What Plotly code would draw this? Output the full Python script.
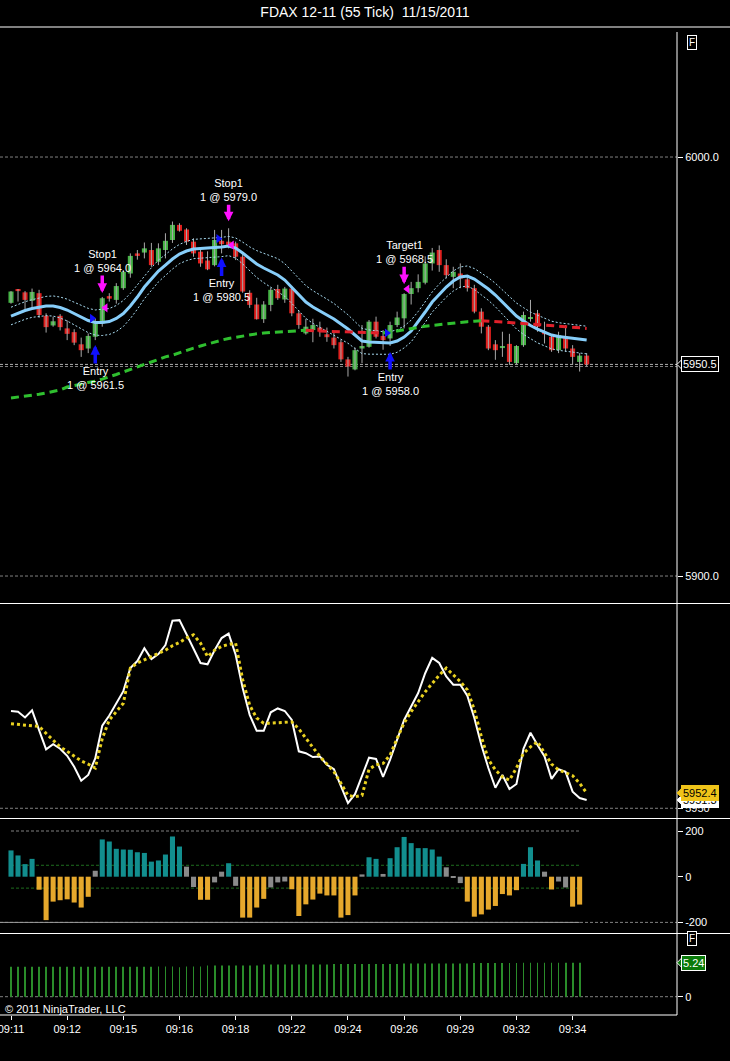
import plotly.graph_objects as go
from plotly.subplots import make_subplots

# ---------------- data ----------------
opens = [5965.2, 5968.3, 5967.7, 5965.7, 5967.5, 5962.1, 5959.8, 5962.1, 5959.1, 5958.2,
         5955.3, 5954.3, 5957.1, 5960.3, 5966.8, 5965.9, 5968.7, 5972.2, 5977.0, 5977.2,
         5977.8, 5975.0, 5977.8, 5980.2, 5983.8, 5982.7, 5979.8, 5977.4, 5975.3, 5974.2,
         5980.0, 5979.8, 5979.4, 5976.2, 5967.6, 5964.8, 5961.3, 5964.7, 5968.5, 5966.0,
         5968.6, 5962.7, 5957.9, 5958.7, 5959.3, 5957.7, 5956.9, 5955.8, 5951.7, 5949.3,
         5954.3, 5954.7, 5960.7, 5957.3, 5956.7, 5959.9, 5961.5, 5967.3, 5968.7, 5970.0,
         5974.6, 5977.8, 5974.2, 5971.4, 5972.2, 5970.8, 5968.7, 5963.1, 5959.5, 5955.3,
         5954.4, 5955.4, 5950.8, 5955.1, 5961.4, 5962.7, 5958.3, 5957.1, 5953.9, 5957.1,
         5954.3, 5951.1, 5952.6]
highs = [5968.0, 5968.5, 5968.0, 5968.6, 5968.3, 5962.7, 5961.9, 5962.5, 5961.0, 5958.9,
         5956.9, 5957.9, 5961.5, 5966.6, 5967.5, 5969.9, 5973.0, 5977.0, 5977.8, 5979.6,
         5979.5, 5979.4, 5981.8, 5984.6, 5984.2, 5983.0, 5980.6, 5978.0, 5977.5, 5982.6,
         5982.6, 5983.0, 5979.8, 5976.8, 5968.2, 5966.4, 5965.6, 5968.8, 5969.5, 5969.0,
         5969.2, 5963.4, 5961.4, 5961.4, 5960.7, 5959.3, 5958.3, 5956.4, 5952.3, 5954.5,
         5959.9, 5961.1, 5961.9, 5958.7, 5960.7, 5963.1, 5967.5, 5970.2, 5972.0, 5976.3,
         5978.3, 5978.9, 5975.6, 5973.8, 5974.6, 5971.8, 5969.5, 5963.9, 5959.9, 5956.3,
         5958.3, 5957.8, 5955.1, 5963.1, 5965.9, 5963.5, 5960.7, 5957.5, 5958.3, 5959.9,
         5955.1, 5953.2, 5953.2]
lows = [5965.0, 5965.5, 5963.7, 5963.7, 5961.6, 5958.1, 5959.5, 5958.6, 5956.3, 5955.1,
        5952.3, 5953.2, 5956.3, 5959.5, 5965.5, 5965.0, 5968.3, 5971.2, 5975.5, 5975.8,
        5973.8, 5974.2, 5975.8, 5979.5, 5982.2, 5979.0, 5976.2, 5973.8, 5973.0, 5973.9,
        5977.0, 5978.2, 5975.4, 5967.6, 5964.0, 5961.2, 5960.4, 5963.2, 5965.9, 5965.2,
        5962.0, 5959.0, 5957.6, 5955.8, 5957.1, 5955.9, 5954.3, 5951.1, 5947.6, 5949.1,
        5950.8, 5954.5, 5956.7, 5954.0, 5954.9, 5959.4, 5959.1, 5964.8, 5967.7, 5969.6,
        5972.9, 5972.6, 5971.0, 5968.7, 5968.7, 5967.9, 5962.7, 5957.9, 5953.9, 5951.6,
        5952.3, 5950.4, 5950.6, 5954.7, 5960.7, 5958.3, 5955.5, 5953.5, 5953.2, 5953.5,
        5950.4, 5948.8, 5950.0]
closes = [5967.9, 5968.0, 5965.9, 5967.8, 5962.3, 5959.4, 5960.8, 5959.4, 5957.8, 5955.7,
          5953.9, 5957.3, 5960.3, 5966.3, 5966.2, 5969.2, 5972.6, 5976.4, 5976.4, 5978.2,
          5974.2, 5978.2, 5980.0, 5983.8, 5982.4, 5979.8, 5977.0, 5974.6, 5973.2, 5980.2,
          5979.2, 5979.0, 5976.2, 5967.9, 5964.7, 5961.3, 5964.8, 5968.3, 5966.3, 5968.6,
          5962.7, 5959.9, 5959.5, 5959.9, 5958.3, 5957.0, 5955.1, 5951.7, 5950.0, 5953.9,
          5954.9, 5960.7, 5957.1, 5956.3, 5959.9, 5961.7, 5967.3, 5968.7, 5970.2, 5974.6,
          5977.2, 5974.2, 5971.8, 5972.6, 5971.0, 5968.7, 5963.1, 5959.5, 5954.3, 5953.9,
          5954.9, 5951.1, 5954.9, 5962.3, 5961.6, 5959.5, 5957.7, 5953.9, 5957.5, 5954.3,
          5952.3, 5952.6, 5950.5]

slow_ma = [5942.5, 5942.7, 5943.0, 5943.2, 5943.4, 5943.7, 5944.0, 5944.4, 5945.1, 5945.4,
           5945.8, 5946.2, 5946.5, 5947.0, 5947.5, 5948.1, 5948.7, 5949.3, 5949.9, 5950.5,
           5951.1, 5951.7, 5952.3, 5952.7, 5953.3, 5953.9, 5954.4, 5954.9, 5955.4, 5955.8,
           5956.3, 5956.7, 5957.0, 5957.3, 5957.5, 5957.8, 5958.0, 5958.1, 5958.2, 5958.4,
           5958.5, 5958.6, 5958.65, 5958.5, 5958.45, 5958.4, 5958.35, 5958.3, 5958.25, 5958.2,
           5958.15, 5958.1, 5958.05, 5958.0, 5958.2, 5958.5, 5958.8, 5959.1, 5959.4, 5959.6,
           5959.8, 5960.0, 5960.2, 5960.4, 5960.6, 5960.7, 5960.8, 5960.9, 5960.85, 5960.75,
           5960.6, 5960.5, 5960.4, 5960.3, 5960.2, 5960.05, 5959.9, 5959.8, 5959.65, 5959.5,
           5959.4, 5959.25, 5959.1]

kc_mid = [5962.05, 5962.77, 5963.37, 5963.84, 5964.20, 5964.44, 5964.44, 5964.08, 5963.48, 5962.65,
          5961.69, 5960.98, 5960.50, 5960.50, 5960.74, 5961.46, 5962.65, 5964.44, 5966.59, 5968.97,
          5970.88, 5972.79, 5974.22, 5975.66, 5976.85, 5977.57, 5978.04, 5978.16, 5978.16, 5978.28,
          5978.52, 5978.76, 5978.28, 5977.09, 5975.66, 5974.46, 5973.51, 5972.67, 5971.84, 5970.64,
          5968.97, 5967.30, 5965.39, 5964.20, 5963.25, 5962.29, 5961.34, 5960.14, 5958.95, 5957.52,
          5956.09, 5955.85, 5955.73, 5955.61, 5955.61, 5956.09, 5957.04, 5958.47, 5960.62, 5963.01,
          5965.39, 5967.30, 5968.97, 5970.41, 5971.36, 5971.60, 5970.88, 5969.69, 5968.50, 5967.06,
          5965.39, 5963.72, 5962.05, 5960.86, 5959.79, 5958.95, 5958.23, 5957.52, 5957.16, 5956.92,
          5956.80, 5956.56, 5956.32]
kc_half = [2.1, 2.1, 2.1, 2.1, 2.2, 2.3, 2.4, 2.5, 2.6, 2.7,
           2.8, 2.9, 3.0, 3.1, 3.1, 3.1, 3.1, 3.0, 2.9, 2.8,
           2.7, 2.6, 2.5, 2.4, 2.3, 2.3, 2.3, 2.3, 2.3, 2.3,
           2.3, 2.3, 2.4, 2.6, 2.9, 3.2, 3.5, 3.7, 3.9, 3.9,
           3.9, 3.9, 3.9, 3.9, 3.9, 3.8, 3.7, 3.6, 3.4, 3.2,
           3.0, 2.9, 2.8, 2.7, 2.7, 2.7, 2.6, 2.6, 2.5, 2.5,
           2.4, 2.4, 2.4, 2.4, 2.4, 2.4, 2.5, 2.6, 2.7, 2.8,
           2.9, 3.0, 3.1, 3.2, 3.2, 3.3, 3.3, 3.3, 3.3, 3.3,
           3.3, 3.3, 3.3]

osc_fast = [5965.2, 5965.1, 5964.2, 5965.3, 5962.2, 5959.2, 5960.0, 5959.3, 5958.2, 5956.5,
            5954.3, 5955.2, 5957.8, 5962.9, 5964.5, 5966.3, 5968.3, 5971.9, 5973.0, 5975.0,
            5973.3, 5974.1, 5975.5, 5979.3, 5979.4, 5977.2, 5974.9, 5972.7, 5972.5, 5974.7,
            5976.6, 5977.3, 5974.0, 5968.8, 5964.6, 5962.1, 5962.1, 5965.0, 5965.6, 5965.2,
            5963.8, 5958.9, 5958.6, 5958.0, 5958.1, 5956.8, 5956.1, 5953.4, 5950.8, 5952.2,
            5955.2, 5957.9, 5957.7, 5954.9, 5957.6, 5960.7, 5963.8, 5965.9, 5968.0, 5971.1,
            5973.5, 5972.7, 5970.6, 5969.3, 5969.3, 5967.6, 5964.1, 5959.9, 5956.3, 5953.2,
            5955.2, 5953.0, 5953.8, 5959.3, 5961.8, 5959.9, 5958.1, 5954.6, 5956.1, 5955.7,
            5952.6, 5951.6, 5951.3]
osc_slow = [5963.2, 5963.1, 5963.1, 5963.0, 5962.8, 5961.7, 5960.7, 5959.6, 5958.9, 5958.1,
            5957.4, 5956.9, 5956.3, 5960.9, 5963.8, 5965.1, 5966.4, 5971.9, 5972.7, 5973.2,
            5973.7, 5974.2, 5974.7, 5975.4, 5975.9, 5976.6, 5977.1, 5975.8, 5973.7, 5974.7,
            5975.3, 5975.6, 5975.8, 5970.1, 5966.1, 5964.1, 5963.3, 5963.3, 5963.4, 5963.5,
            5963.5, 5962.4, 5960.9, 5959.5, 5958.1, 5956.9, 5955.7, 5953.9, 5952.0, 5951.8,
            5952.0, 5956.1, 5956.8, 5957.0, 5958.3, 5960.9, 5963.3, 5965.1, 5966.7, 5968.2,
            5969.5, 5970.8, 5971.9, 5970.8, 5969.8, 5968.5, 5965.4, 5961.2, 5957.6, 5956.0,
            5954.9, 5954.4, 5956.3, 5958.6, 5959.6, 5960.4, 5958.6, 5956.9, 5956.0, 5955.6,
            5955.1, 5953.9, 5952.4]

hist_vals = [115, 93, 55, 78, -57, -190, -109, -103, -99, -113,
             -135, -88, 26, 163, 154, 122, 119, 118, 107, 104,
             66, 71, 97, 176, 132, 44, -45, -101, -101, -25,
             22, 59, -40, -179, -179, -135, -97, -47, -25, -21,
             -55, -172, -121, -100, -74, -82, -82, -179, -168, -82,
             10, 85, 78, 12, 81, 129, 174, 147, 125, 125,
             119, 88, 41, -2, -28, -109, -175, -165, -144, -128,
             -76, -82, -59, 56, 129, 71, 22, -56, -21, -47,
             -131, -122]

lower_vals = [4.62, 4.62, 4.62, 4.62, 4.62, 4.62, 4.62, 4.62, 4.62, 4.62,
              4.62, 4.62, 4.62, 4.62, 4.62, 4.62, 4.62, 4.62, 4.62, 4.62,
              4.62, 4.66, 4.66, 4.66, 4.55, 4.66, 4.66, 4.66, 4.80, 4.80,
              4.80, 4.80, 4.80, 4.80, 4.80, 4.80, 4.95, 4.95, 4.95, 4.95,
              4.95, 4.95, 4.95, 4.95, 4.95, 4.95, 5.05, 5.05, 5.05, 5.05,
              5.05, 5.05, 5.05, 5.05, 5.05, 5.05, 5.12, 5.12, 5.12, 5.12,
              5.12, 5.12, 5.12, 5.12, 5.12, 5.12, 5.18, 5.18, 5.18, 5.18,
              5.18, 5.18, 5.18, 5.24, 5.24, 5.24, 5.24, 5.24, 5.24, 5.24,
              5.24, 5.24]

tick_bars = [0, 8, 16, 24, 32, 40, 48, 56, 64, 72, 80]
tick_labels = ["09:11", "09:12", "09:15", "09:16", "09:18", "09:22",
               "09:24", "09:26", "09:29", "09:32", "09:34"]

trade_bars = [12, 13, 30, 31, 54, 56]
trade_names = ["Entry", "Stop1", "Entry", "Stop1", "Entry", "Target1"]
trade_prices = [5961.5, 5964.0, 5980.5, 5979.0, 5958.0, 5968.5]
trade_is_entry = [True, False, True, False, True, False]

# ---------------- styling ----------------
FONT = "Liberation Sans, Arial, sans-serif"
GREEN = "#46B446"
RED = "#E0201E"
WICK = "#A8A8A8"
BLUE_MID = "#87CEFA"
BAND = "#A9DCF2"
MA_UP = "#2FBF2F"
MA_DN = "#E0202A"
TEAL = "#128E8E"
ORANGE = "#E6A82C"
GRAY = "#8A8A8A"
GRID = "#808080"

n = len(closes)
idx = list(range(n))
hidx = list(range(len(hist_vals)))

fig = make_subplots(rows=4, cols=1, shared_xaxes=True, vertical_spacing=0)

# wicks
wx, wy = [], []
for i in idx:
    wx += [i, i, None]
    wy += [lows[i], highs[i], None]
fig.add_trace(go.Scatter(x=wx, y=wy, mode="lines", line=dict(color=WICK, width=1),
                         hoverinfo="skip"), row=1, col=1)
# bodies
body_col = [GREEN if c >= o else RED for o, c in zip(opens, closes)]
fig.add_trace(go.Bar(x=idx, y=[c - o for o, c in zip(opens, closes)], base=opens,
                     width=0.72, marker=dict(color=body_col, line=dict(width=0))),
              row=1, col=1)

# keltner bands
upper = [m + h for m, h in zip(kc_mid, kc_half)]
lower = [m - h for m, h in zip(kc_mid, kc_half)]
for band in (upper, lower):
    fig.add_trace(go.Scatter(x=idx, y=band, mode="lines",
                             line=dict(color=BAND, width=1, dash="2px,2px")), row=1, col=1)
fig.add_trace(go.Scatter(x=idx, y=kc_mid, mode="lines", line=dict(color=BLUE_MID, width=3)),
              row=1, col=1)

# slow moving average, coloured by direction
runs = []
cur = None
for i in range(1, n):
    up = slow_ma[i] >= slow_ma[i - 1]
    if cur is None or cur[0] != up:
        cur = [up, [i - 1, i]]
        runs.append(cur)
    else:
        cur[1].append(i)
for up, pts in runs:
    fig.add_trace(go.Scatter(x=pts, y=[slow_ma[p] for p in pts], mode="lines",
                             line=dict(color=MA_UP if up else MA_DN, width=3, dash="8px,5px")),
                  row=1, col=1)

# trade fill markers
for b, p, e in zip(trade_bars, trade_prices, trade_is_entry):
    fig.add_trace(go.Scatter(x=[b - 0.45 if e else b + 0.45], y=[p], mode="markers",
                             marker=dict(symbol="triangle-right" if e else "triangle-left",
                                         size=8, color="#1010FF" if e else "#FF10FF",
                                         line=dict(width=0))), row=1, col=1)

# oscillator
fig.add_trace(go.Scatter(x=idx, y=osc_fast, mode="lines", line=dict(color="white", width=2)),
              row=2, col=1)
fig.add_trace(go.Scatter(x=idx, y=osc_slow, mode="lines",
                         line=dict(color="#E8D020", width=3, dash="3px,3px")), row=2, col=1)

# histogram
hcol = [TEAL if v > 50 else (ORANGE if v < -50 else GRAY) for v in hist_vals]
fig.add_trace(go.Bar(x=hidx, y=hist_vals, width=0.72,
                     marker=dict(color=hcol, line=dict(width=0))), row=3, col=1)

# lower panel thin bars
fig.add_trace(go.Bar(x=hidx, y=lower_vals, width=0.12,
                     marker=dict(color="#2A8C2A", line=dict(width=0))), row=4, col=1)

# ---------------- layout ----------------
XR = [-1.567, 94.87]
W, H = 730, 1061
TOP, BOT = 27, 1015
PH = BOT - TOP


def py(pix):
    return (BOT - pix) / PH


fig.update_layout(
    width=W, height=H, paper_bgcolor="black", plot_bgcolor="black",
    margin=dict(l=0, r=53, t=TOP, b=H - BOT, autoexpand=False), showlegend=False,
    barmode="overlay", hovermode=False,
    font=dict(family=FONT, color="white", size=11),
    title=dict(text="FDAX 12-11 (55 Tick)\u00a0 11/15/2011", x=0.5, xref="container",
               xanchor="center", y=1 - 12 / H, yref="container", yanchor="middle",
               font=dict(size=14, color="white", family=FONT)),
)
for k in ["xaxis", "xaxis2", "xaxis3", "xaxis4"]:
    fig.layout[k].update(range=XR, showgrid=False, zeroline=False, showline=False,
                         domain=[0, 1], automargin=False)
for k in ["xaxis", "xaxis2", "xaxis3"]:
    fig.layout[k].update(showticklabels=False, ticks="")
fig.layout.xaxis4.update(tickmode="array", tickvals=tick_bars, ticktext=tick_labels,
                         ticks="outside", ticklen=4, tickcolor="white",
                         ticklabeloverflow="allow",
                         tickfont=dict(size=11, color="white", family=FONT))

yax = dict(side="right", showgrid=False, zeroline=False, showline=False, ticks="outside",
           ticklen=5, tickcolor="white", tickfont=dict(size=11, color="white", family=FONT),
           tickmode="array", automargin=False)
fig.layout.yaxis.update(**yax, domain=[py(603), 1], range=[5893.56, 6031.03],
                        tickvals=[5900, 6000], ticktext=["5900.0", "6000.0"])
fig.layout.yaxis2.update(**yax, domain=[py(818), py(604)], range=[5948.48, 5981.92],
                         tickvals=[5950], ticktext=["5950"])
fig.layout.yaxis3.update(**yax, domain=[py(933), py(819)], range=[-246.4, 252.5],
                         tickvals=[-200, 0, 200], ticktext=["-200", "0", "200"])
fig.layout.yaxis4.update(**yax, domain=[0, py(934)], range=[-2.82, 9.66],
                         tickvals=[0], ticktext=["0"])

shapes = []
XFULL = W / (W - 53)
# frame lines
shapes.append(dict(type="line", xref="paper", yref="paper", x0=0, x1=XFULL, y0=1, y1=1,
                   line=dict(color="white", width=1)))
for ypix in (603.5, 818.5, 933.5):
    shapes.append(dict(type="line", xref="paper", yref="paper", x0=0, x1=XFULL,
                       y0=py(ypix), y1=py(ypix), line=dict(color="white", width=1)))
shapes.append(dict(type="line", xref="paper", yref="paper", x0=1, x1=1, y0=0, y1=py(32),
                   line=dict(color="white", width=1)))
shapes.append(dict(type="line", xref="paper", yref="paper", x0=0, x1=1, y0=0, y1=0,
                   line=dict(color="white", width=1)))


def hline(yref, val, color, x0=0, x1=1, xref="paper", dash="3px,2px"):
    shapes.append(dict(type="line", xref=xref, yref=yref, x0=x0, x1=x1, y0=val, y1=val,
                       line=dict(color=color, width=1, dash=dash), layer="below"))


hline("y", 6000, GRID)
hline("y", 5900, GRID)
hline("y", 5950, GRID)
hline("y", closes[-1], "#B0B0B0")
hline("y2", 5950, GRID)
hline("y3", 200, GRID, x0=0, x1=len(hist_vals) - 1, xref="x3")
hline("y3", 50, "#1E6E1E", x0=0, x1=len(hist_vals) - 1, xref="x3")
hline("y3", -50, "#1E6E1E", x0=0, x1=len(hist_vals) - 1, xref="x3")
hline("y3", -200, GRID)
hline("y3", -200, "#9A9A9A", x0=XR[0], x1=len(hist_vals) - 1, xref="x3", dash="solid")
hline("y4", 0, GRID)

annotations = []


def flag(yref, val, text, bg, fg, border):
    shapes.append(dict(type="path", xref="paper", yref=yref, xsizemode="pixel",
                       ysizemode="pixel", xanchor=1, yanchor=val,
                       path="M 0 0 L 6 6 L 6 -6 Z", fillcolor=bg,
                       line=dict(color=border, width=1)))
    annotations.append(dict(xref="paper", yref=yref, x=1, y=val, xanchor="left",
                            yanchor="middle", xshift=4, text=text, showarrow=False,
                            bgcolor=bg, bordercolor=border, borderwidth=1, borderpad=1,
                            font=dict(color=fg, size=11, family=FONT)))


flag("y", closes[-1], f"{closes[-1]:.1f}", "black", "white", "white")
flag("y2", osc_fast[-1], f"{osc_fast[-1]:.1f}", "white", "black", "white")
flag("y2", osc_slow[-1], f"{osc_slow[-1]:.1f}", "#F0C419", "black", "#F0C419")
flag("y4", lower_vals[-1], f"{lower_vals[-1]:.2f}", "#0A7A0A", "white", "white")

# trade labels with arrows
ays = [38, -36, 37, -38, 38, -41]
stand = [5, 4, 4, 7, 6, 9]
for k, (b, nm, p, e) in enumerate(zip(trade_bars, trade_names, trade_prices, trade_is_entry)):
    annotations.append(dict(
        xref="x", yref="y", x=b, y=lows[b] if e else highs[b],
        text=f"{nm}<br>1 @ {p:.1f}", showarrow=True, ax=0, ay=ays[k],
        arrowhead=2, arrowsize=0.55, arrowwidth=3.5, standoff=stand[k],
        arrowcolor="#1010FF" if e else "#FF10FF",
        font=dict(color="white", size=11, family=FONT)))

# F boxes
for ypix in (35, 946):
    annotations.append(dict(xref="paper", yref="paper", x=697 / (W - 53), y=py(ypix),
                            text="F", showarrow=False, bgcolor="black", bordercolor="white",
                            borderwidth=1, borderpad=1,
                            font=dict(color="white", size=10, family=FONT)))
annotations.append(dict(xref="paper", yref="paper", x=0.004, y=py(1009), xanchor="left",
                        yanchor="middle", text="\u00a9 2011 NinjaTrader, LLC",
                        showarrow=False, font=dict(color="white", size=11, family=FONT)))

fig.update_layout(shapes=shapes, annotations=annotations)
fig.write_html("out.html", config={"displayModeBar": False},
               post_script="document.body.style.margin='0';"
                           "document.body.style.padding='0';"
                           "document.body.style.background='black';")
